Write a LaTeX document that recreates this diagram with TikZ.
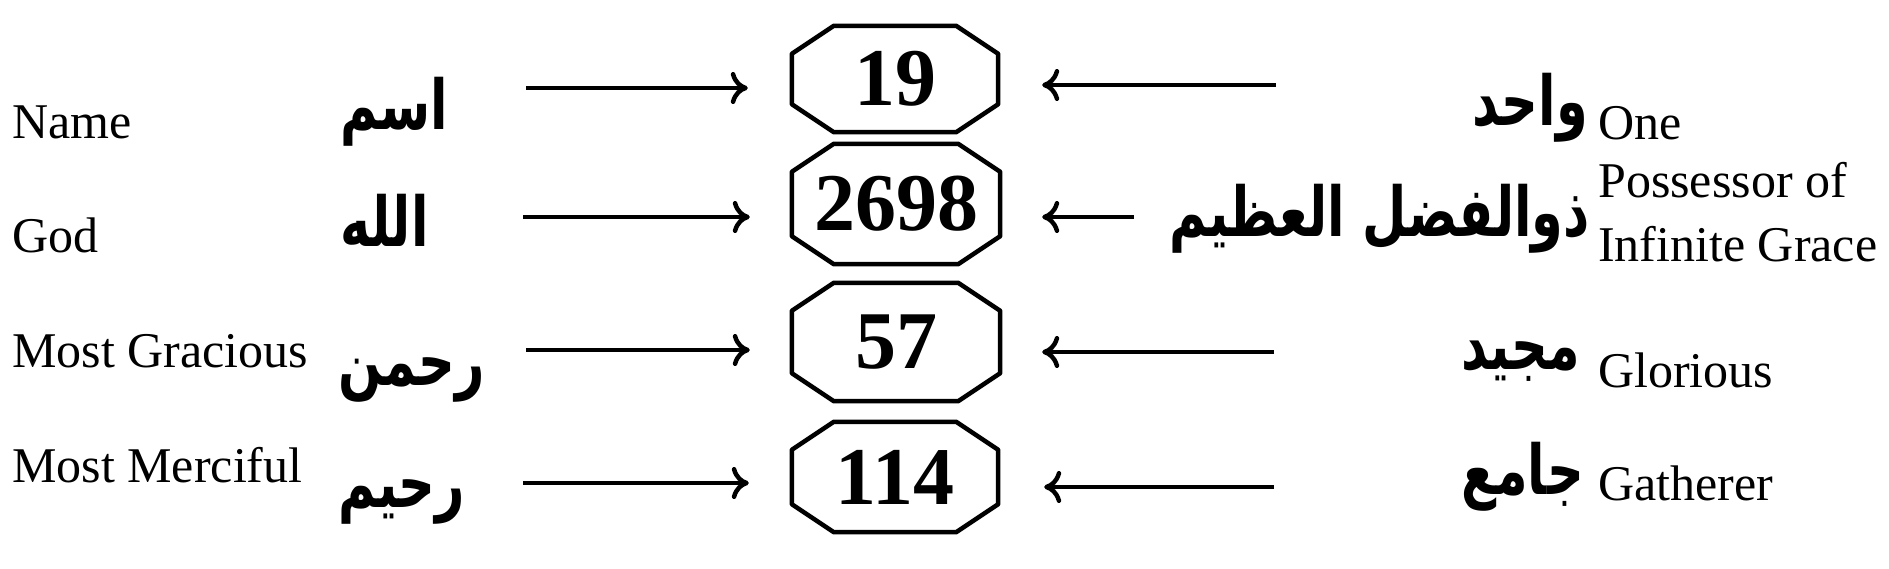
\documentclass[tikz,border=0pt]{standalone}
\usepackage{graphicx}
\usepackage{fontspec}
\setmainfont{Liberation Serif}
\newfontfamily\arabicfont[Script=Arabic]{DejaVu Sans}
\TeXXeTstate=1
\usetikzlibrary{arrows.meta}
\newcommand{\artxt}[1]{\scalebox{1}[1.35]{\beginR #1\endR}}
\begin{document}
\begin{tikzpicture}[x=1pt,y=-1pt,
  en/.style={inner sep=0pt, anchor=base west, font=\fontsize{50}{64}\selectfont},
  arw/.style={inner sep=0pt, font=\arabicfont\bfseries\fontsize{51}{60}\selectfont},
  numbox/.style={inner sep=0pt, font=\fontsize{82}{94}\selectfont\bfseries},
  oct/.style={line width=4.5pt, line join=round},
  arr/.style={line width=4.5pt, -{Computer Modern Rightarrow[length=17pt,width=32pt]}}]
\fill[white] (0,0) rectangle (1889,569);
\useasboundingbox (0,0) rectangle (1889,569);

% English labels, left
\node[en] (eName) at (12,139) {Name};
\node[en] (eGod) at (12,253) {God};
\node[en] (eGra) at (12,367) {Most Gracious};
\node[en] (eMer) at (12,482) {Most Merciful};

% Arabic, left
\node[arw, anchor=base west] (aIsm) at (340,130) {\artxt{اسم}};
\node[arw, anchor=base west] (aAllah) at (340,247) {\artxt{الله}};
\node[arw, anchor=base west] (aRahman) at (338,385) {\artxt{رحمن}};
\node[arw, anchor=base west] (aRahim) at (338,507) {\artxt{رحيم}};

% number boxes
\node[numbox, minimum width=206pt, minimum height=106pt] (b1) at (895,79) {19};
\node[numbox, minimum width=208pt, minimum height=120pt] (b2) at (896,204) {2698};
\node[numbox, minimum width=208pt, minimum height=118pt] (b3) at (896,342) {57};
\node[numbox, minimum width=206pt, minimum height=110pt] (b4) at (895,477) {114};
\foreach \n in {b1,b2,b3,b4}{
  \draw[oct] ([xshift=42pt]\n.north west) -- ([xshift=-42pt]\n.north east)
    -- ([yshift=-28pt]\n.north east) -- ([yshift=28pt]\n.south east)
    -- ([xshift=-42pt]\n.south east) -- ([xshift=42pt]\n.south west)
    -- ([yshift=28pt]\n.south west) -- ([yshift=-28pt]\n.north west) -- cycle;
}

% Arabic, right
\node[arw, anchor=base east] (aWahid) at (1588,126) {\artxt{واحد}};
\node[arw, anchor=base east] (aDhu) at (1590,237) {\artxt{ذوالفضل العظيم}};
\node[arw, anchor=base east] (aMajid) at (1580,369) {\artxt{مجيد}};
\node[arw, anchor=base east] (aJami) at (1584,494) {\artxt{جامع}};

% English labels, right
\node[en] (eOne) at (1598,140) {One};
\node[en] (ePos) at (1598,198) {\begin{tabular}[t]{@{}l@{}}Possessor of\\Infinite Grace\end{tabular}};
\node[en] (eGlo) at (1598,387) {Glorious};
\node[en] (eGat) at (1598,500) {Gatherer};

% arrow tails
\coordinate (l1) at (526,88);
\coordinate (l2) at (523,217);
\coordinate (l3) at (526,350);
\coordinate (l4) at (523,483);
\coordinate (r1) at (1276,85);
\coordinate (r2) at (1134,217);
\coordinate (r3) at (1274,352);
\coordinate (r4) at (1274,487);

% left arrows
\draw[arr, shorten >=44pt] (l1) -- (l1 -| b1.west);
\draw[arr, shorten >=42pt] (l2) -- (l2 -| b2.west);
\draw[arr, shorten >=42pt] (l3) -- (l3 -| b3.west);
\draw[arr, shorten >=43pt] (l4) -- (l4 -| b4.west);
% right arrows
\draw[arr, shorten >=44pt] (r1) -- (r1 -| b1.east);
\draw[arr, shorten >=42pt] (r2) -- (r2 -| b2.east);
\draw[arr, shorten >=42pt] (r3) -- (r3 -| b3.east);
\draw[arr, shorten >=46pt] (r4) -- (r4 -| b4.east);
\end{tikzpicture}
\end{document}
